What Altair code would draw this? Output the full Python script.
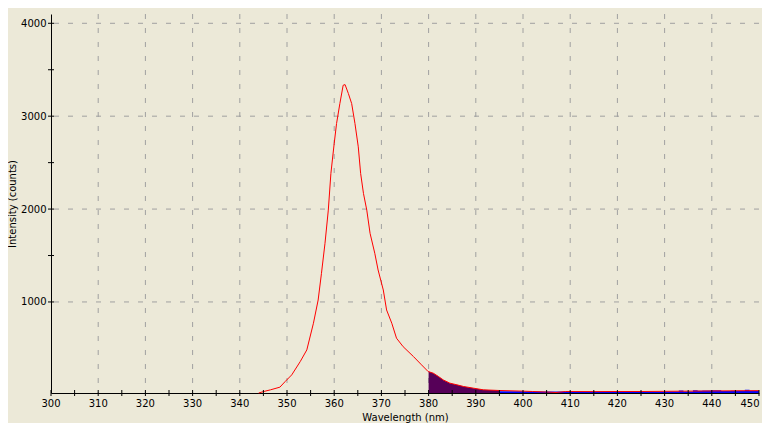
import altair as alt
import pandas as pd

# Red spectrum (wavelength nm, intensity counts)
red_wl = [344.0, 345.0, 346.5, 348.5, 349.6, 351.0, 352.8, 354.2, 355.6, 356.6,
          357.3, 358.05, 358.75, 359.3, 360.0, 360.5, 361.2, 361.9, 362.3, 363.0,
          363.7, 364.4, 365.1, 365.6, 366.2, 366.9, 367.6, 368.6, 369.3, 370.4,
          371.1, 372.2, 373.2, 374.6, 376.8, 378.5, 379.9, 381.0, 382.1, 383.1,
          384.5, 386.0, 387.4, 389.5, 391.6, 395.0, 400.0, 402.0, 405.7, 407.0,
          409.0, 415.0, 420.0, 425.0, 430.0, 435.0, 440.0, 445.0, 450.0]
red_int = [20, 35, 54, 83, 143, 215, 358, 484, 771, 1021,
           1308, 1631, 1989, 2384, 2706, 2921, 3136, 3333, 3340, 3244,
           3136, 2921, 2670, 2384, 2169, 1989, 1739, 1524, 1344, 1129,
           914, 771, 610, 519, 412, 323, 251, 233, 197, 161,
           126, 108, 90, 72, 54, 47, 40, 36, 29, 25,
           36, 35, 36, 36, 38, 40, 42, 44, 45]

# Dark filled region under the curve
fill_wl = [380.0, 381.0, 382.1, 383.1, 384.5, 386.0, 387.4, 389.5, 391.6, 395.0]
fill_int = [251, 233, 197, 161, 126, 108, 90, 72, 54, 47]

# Blue series near baseline
blue_wl = [392.0, 395.0, 400.0, 410.0, 420.0, 430.0, 432.5, 433.0, 434.0, 436.0,
           437.0, 438.0, 440.0, 442.0, 444.0, 447.0, 448.0, 450.0]
blue_int = [45, 40, 36, 33, 33, 35, 35, 48, 36, 50, 45, 48, 50, 42, 44, 55, 45, 45]

x_ticks = list(range(300, 451, 5))
x_labels_main = list(range(300, 441, 10))
x_label_last = [450]
y_ticks = [1000, 1500, 2000, 2500, 3000, 3500, 4000]
x_grid = list(range(310, 441, 10))
y_grid = [1000, 2000, 3000, 4000]

W, H = 708, 379
FONT = "DejaVu Sans"

xs = alt.Scale(domain=[300, 450], nice=False, zero=False)
ys = alt.Scale(domain=[20, 4100], nice=False, zero=False)

red_df = pd.DataFrame({"wl": red_wl, "I": red_int})
fill_df = pd.DataFrame({"wl": fill_wl, "I": fill_int})
blue_df = pd.DataFrame({"wl": blue_wl, "I": blue_int})

grid_dash = [5, 9]
vgrid = alt.Chart(pd.DataFrame({"g": x_grid})).mark_rule(
    color="#A0A0A0", strokeDash=grid_dash, strokeWidth=1
).encode(x=alt.X("g:Q", scale=xs))
hgrid = alt.Chart(pd.DataFrame({"g": y_grid})).mark_rule(
    color="#A0A0A0", strokeDash=grid_dash, strokeWidth=1
).encode(y=alt.Y("g:Q", scale=ys))

blue = alt.Chart(blue_df).mark_area(color="#0000FF", interpolate="step-after").encode(
    x=alt.X("wl:Q", scale=xs), y=alt.Y("I:Q", scale=ys), y2=alt.datum(20)
)
fill = alt.Chart(fill_df).mark_area(color="#560058", interpolate="linear").encode(
    x=alt.X("wl:Q", scale=xs), y=alt.Y("I:Q", scale=ys), y2=alt.datum(20)
)

line = alt.Chart(red_df).mark_line(color="#FF0000", strokeWidth=1).encode(
    x=alt.X("wl:Q", scale=xs,
            axis=alt.Axis(title="Wavelength (nm)", labels=False,
                          ticks=False, tickSize=0,
                          titlePadding=19, domainColor="black", grid=False)),
    y=alt.Y("I:Q", scale=ys,
            axis=alt.Axis(title="Intensity (counts)", values=y_grid, format="d",
                          ticks=False, tickSize=0, labelPadding=5, titlePadding=3,
                          labelFlush=False, labelOverlap=False,
                          domainColor="black", grid=False)),
)

xt = alt.Chart(pd.DataFrame({"t": x_ticks})).mark_rule(color="black").encode(
    x=alt.X("t:Q", scale=xs), y=alt.value(H - 3), y2=alt.value(H + 3)
)
yt = alt.Chart(pd.DataFrame({"t": y_ticks})).mark_rule(color="black").encode(
    y=alt.Y("t:Q", scale=ys), x=alt.value(-3), x2=alt.value(3)
)

xl_main = alt.Chart(pd.DataFrame({"t": x_labels_main})).mark_text(
    font=FONT, fontSize=10, color="black", baseline="top", align="center"
).encode(x=alt.X("t:Q", scale=xs), y=alt.value(H + 6), text=alt.Text("t:Q", format="d"))
xl_last = alt.Chart(pd.DataFrame({"t": x_label_last})).mark_text(
    font=FONT, fontSize=10, color="black", baseline="top", align="center", dx=-9
).encode(x=alt.X("t:Q", scale=xs), y=alt.value(H + 6), text=alt.Text("t:Q", format="d"))

chart = alt.layer(vgrid, hgrid, blue, fill, line, xt, yt, xl_main, xl_last).properties(
    width=W, height=H,
    autosize=alt.AutoSizeParams(type="none"),
    padding={"left": 43, "top": 6, "right": 3, "bottom": 30},
    background="#ECE9D8",
).configure_view(stroke=None).configure_axis(
    labelFont=FONT, titleFont=FONT, labelFontSize=10, titleFontSize=10,
    labelColor="black", titleColor="black", titleFontWeight="normal",
    domainWidth=1,
)

chart.save("out.html", embed_options={"renderer": "svg", "actions": False})
